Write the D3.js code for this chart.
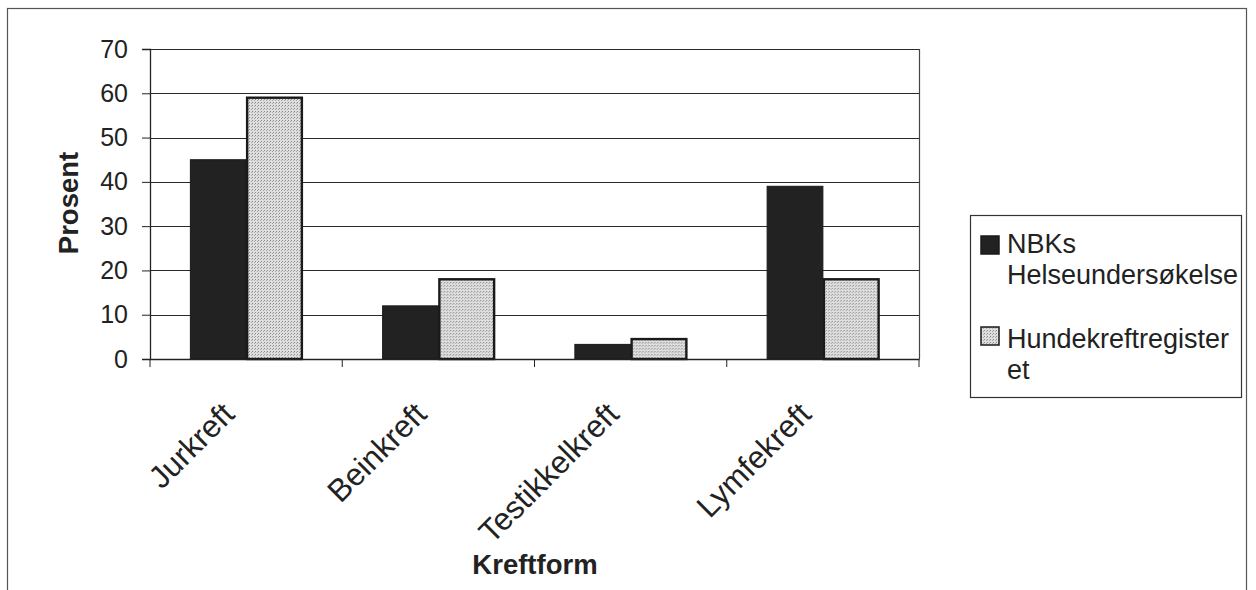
<!DOCTYPE html>
<html>
<head>
<meta charset="utf-8">
<script src="https://cdn.jsdelivr.net/npm/d3@7"></script>
<style>
  html, body { margin: 0; padding: 0; background: #fff; }
  svg { display: block; font-family: "Liberation Sans", Arial, sans-serif; }
</style>
</head>
<body>
<svg id="chart" width="1256" height="590"></svg>
<script>
// Cancer types and the share (%) reported by each source
const categories = ["Jurkreft", "Beinkreft", "Testikkelkreft", "Lymfekreft"];
const seriesNames = ["NBKs Helseundersøkelse", "Hundekreftregisteret"];
const nbkValues = [45, 12, 3.3, 39];
const registerValues = [59, 18, 4.5, 18];
const yTicks = [0, 10, 20, 30, 40, 50, 60, 70];
const legendLines = [["NBKs", "Helseundersøkelse"], ["Hundekreftregister", "et"]];

const svg = d3.select("#chart");

// Stippled light-grey fill for the register series
const defs = svg.append("defs");
const pat = defs.append("pattern")
  .attr("id", "stipple").attr("patternUnits", "userSpaceOnUse")
  .attr("width", 3).attr("height", 3);
pat.append("rect").attr("width", 3).attr("height", 3).attr("fill", "#dedede");
pat.append("rect").attr("x", 0).attr("y", 0).attr("width", 1).attr("height", 1).attr("fill", "#8a8a8a");
pat.append("rect").attr("x", 2).attr("y", 1).attr("width", 1).attr("height", 1).attr("fill", "#a8a8a8");

// Outer chart frame
svg.append("rect")
  .attr("x", 7.5).attr("y", 8.5).attr("width", 1239).attr("height", 590)
  .attr("fill", "none").attr("stroke", "#555").attr("stroke-width", 1.2);

const plot = { left: 150, right: 919, top: 49, bottom: 359 };

const x = d3.scaleBand().domain(categories).range([plot.left, plot.right]).padding(0);
const xs = d3.scaleBand().domain(seriesNames)
  .range([x.bandwidth() * 0.21, x.bandwidth() * 0.79]).padding(0);
const y = d3.scaleLinear().domain([0, 70]).range([plot.bottom, plot.top]);

// Horizontal gridlines
svg.append("g").selectAll("line").data(yTicks.filter(d => d > 0)).join("line")
  .attr("x1", plot.left).attr("x2", plot.right)
  .attr("y1", d => Math.round(y(d)) + 0.5).attr("y2", d => Math.round(y(d)) + 0.5)
  .attr("stroke", "#2a2a2a").attr("stroke-width", 1);

// Right edge of the plot area
svg.append("line")
  .attr("x1", plot.right + 0.5).attr("x2", plot.right + 0.5)
  .attr("y1", plot.top).attr("y2", plot.bottom)
  .attr("stroke", "#444").attr("stroke-width", 1.2);

// Bars
const rows = categories.map((c, i) => ({ cat: c, vals: [nbkValues[i], registerValues[i]] }));
const groups = svg.append("g").selectAll("g").data(rows).join("g")
  .attr("transform", d => `translate(${x(d.cat)},0)`);
groups.append("rect")
  .attr("x", xs(seriesNames[0])).attr("width", xs.bandwidth())
  .attr("y", d => y(d.vals[0])).attr("height", d => y(0) - y(d.vals[0]))
  .attr("fill", "#222").attr("stroke", "#1a1a1a").attr("stroke-width", 1);
groups.append("rect")
  .attr("x", xs(seriesNames[1]) + 1).attr("width", xs.bandwidth() - 1)
  .attr("y", d => y(d.vals[1])).attr("height", d => y(0) - y(d.vals[1]))
  .attr("fill", "url(#stipple)").attr("stroke", "#1a1a1a").attr("stroke-width", 2.4);

// Y axis
const yAxis = d3.axisLeft(y).tickValues(yTicks).tickSize(8).tickPadding(14);
const gy = svg.append("g").attr("transform", `translate(${plot.left},0)`).call(yAxis);
gy.select(".domain").attr("stroke", "#222").attr("stroke-width", 1.3);
gy.selectAll(".tick line").attr("stroke", "#222");
gy.selectAll(".tick text").attr("font-size", 25).attr("fill", "#222")
  .attr("font-family", "Liberation Sans, Arial, sans-serif");

// X axis
const xAxis = d3.axisBottom(x).tickSize(0).tickFormat("");
const gx = svg.append("g").attr("transform", `translate(0,${plot.bottom})`).call(xAxis);
gx.select(".domain").attr("stroke", "#222").attr("stroke-width", 1.5);
gx.selectAll(".tick").remove();
// Category separators below the axis
svg.append("g").selectAll("line").data(d3.range(categories.length + 1)).join("line")
  .attr("x1", i => plot.left + i * x.step()).attr("x2", i => plot.left + i * x.step())
  .attr("y1", plot.bottom).attr("y2", plot.bottom + 8)
  .attr("stroke", "#222").attr("stroke-width", 1);

// Rotated category labels
svg.append("g").selectAll("text").data(categories).join("text")
  .attr("transform", d => `translate(${x(d) + x.bandwidth() / 2 - 10},${plot.bottom + 57}) rotate(-45)`)
  .attr("text-anchor", "end")
  .attr("font-size", 31.5).attr("fill", "#222")
  .text(d => d);

// Axis titles
svg.append("text")
  .attr("transform", `translate(78,${(plot.top + plot.bottom) / 2 - 1}) rotate(-90)`)
  .attr("text-anchor", "middle").attr("font-size", 27.5).attr("font-weight", "bold").attr("fill", "#222")
  .text("Prosent");
svg.append("text")
  .attr("x", 535).attr("y", 574)
  .attr("text-anchor", "middle").attr("font-size", 27.5).attr("font-weight", "bold").attr("fill", "#222")
  .text("Kreftform");

// Legend
const lg = svg.append("g");
lg.append("rect").attr("x", 970.5).attr("y", 215.5).attr("width", 271).attr("height", 182)
  .attr("fill", "#fff").attr("stroke", "#333").attr("stroke-width", 1.2);
const legendFills = ["#222", "url(#stipple)"];
const swatchTop = [236, 327];
const lineBaselines = [[253, 284], [348, 379]];
legendLines.forEach((lines, i) => {
  lg.append("rect").attr("x", 981).attr("y", swatchTop[i])
    .attr("width", 18).attr("height", 18)
    .attr("fill", legendFills[i]).attr("stroke", "#1a1a1a").attr("stroke-width", 1.5);
  lines.forEach((t, j) => {
    lg.append("text")
      .attr("x", 1007).attr("y", lineBaselines[i][j])
      .attr("font-size", 27).attr("fill", "#222")
      .text(t);
  });
});
</script>
</body>
</html>
